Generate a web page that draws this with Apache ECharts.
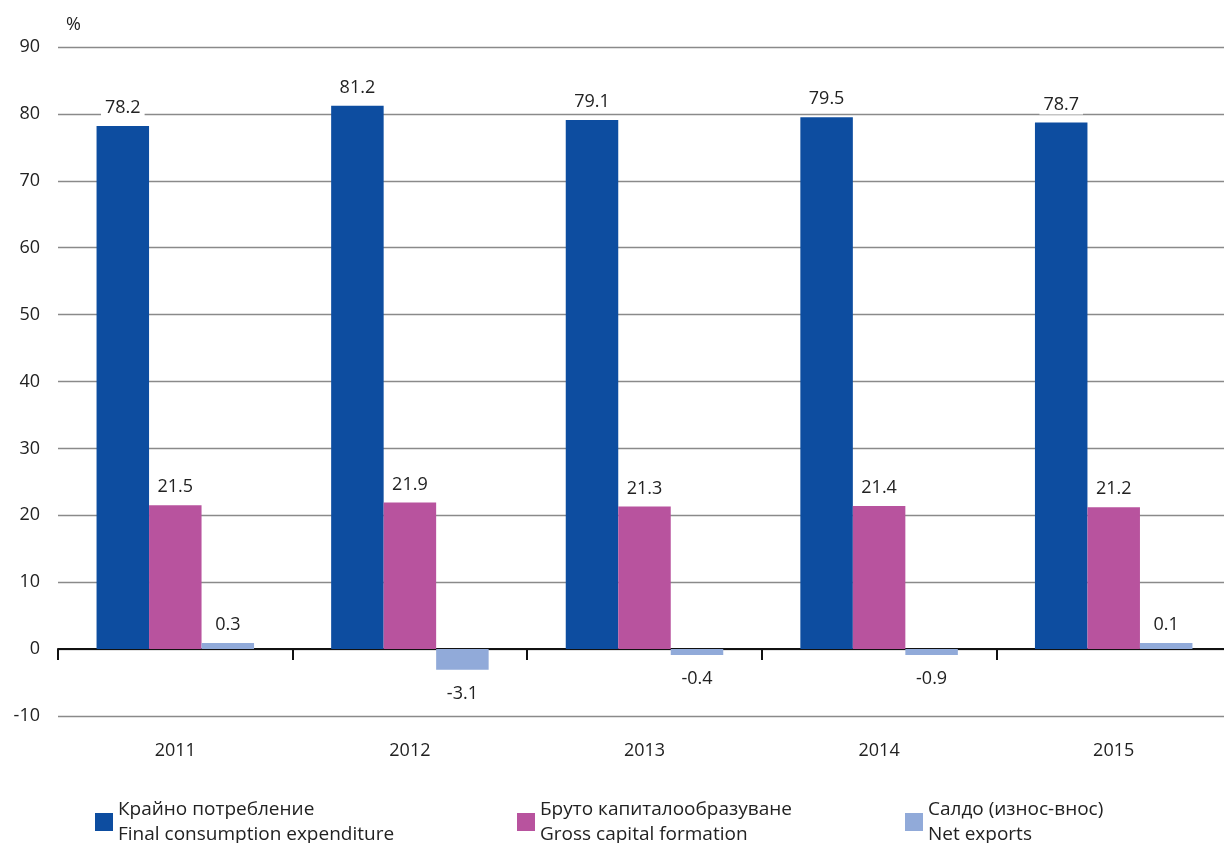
<!DOCTYPE html>
<html><head><meta charset="utf-8">
<script src="https://cdn.jsdelivr.net/npm/echarts@6/dist/echarts.min.js"></script>
<style>html,body{margin:0;padding:0;background:#fff;overflow:hidden}#c{width:1240px;height:843px}</style>
</head><body><div id="c"></div>
<script>
const categories = ['2011','2012','2013','2014','2015'];
const finalConsumption = [78.2, 81.2, 79.1, 79.5, 78.7];
const grossCapital = [21.5, 21.9, 21.3, 21.4, 21.2];
const netExports = [0.3, -3.1, -0.4, -0.9, 0.1];
const seriesNames = [
  'Крайно потребление\nFinal consumption expenditure',
  'Бруто капиталообразуване\nGross capital formation',
  'Салдо (износ-внос)\nNet exports'
];
const colors = ['#0D4DA0', '#B8539E', '#91AAD9'];
const FONT = 'Open Sans';

function mk(vals){
  return vals.map(v => ({value: v, label: {position: v < 0 ? 'bottom' : 'top', distance: v < 0 ? 14 : 8}}));
}
const lbl = {show: true, fontFamily: FONT, fontSize: 18, color: '#222', backgroundColor: '#fff', padding: [1, 4]};
const chart = echarts.init(document.getElementById('c'));
const legendBase = {orient: 'horizontal', top: 792, itemWidth: 18, itemHeight: 18, itemGap: 9,
  textStyle: {fontFamily: FONT, fontSize: 19, color: '#222', lineHeight: 25}, selectedMode: false, icon: 'rect'};
chart.setOption({
  animation: false,
  color: colors,
  grid: {left: 58, right: 9, top: 47, bottom: 127, containLabel: false},
  title: {text: '%', left: 61, top: 11, textStyle: {fontFamily: FONT, fontSize: 18, fontWeight: 'normal', color: '#222'}},
  legend: [
    Object.assign({}, legendBase, {left: 90, data: [seriesNames[0]]}),
    Object.assign({}, legendBase, {left: 512, data: [seriesNames[1]]}),
    Object.assign({}, legendBase, {left: 900, data: [seriesNames[2]]})
  ],
  xAxis: {
    type: 'category', data: categories,
    axisLine: {onZero: true, lineStyle: {color: '#111', width: 2}},
    axisTick: {show: true, length: 11, lineStyle: {color: '#111', width: 2}},
    axisLabel: {margin: 26, fontFamily: FONT, fontSize: 18, color: '#222'}
  },
  yAxis: {
    type: 'value', min: -10, max: 90, interval: 10,
    axisLine: {show: false}, axisTick: {show: false},
    splitLine: {lineStyle: {color: '#8a8a8a', width: 1.3}},
    axisLabel: {margin: 18, fontFamily: FONT, fontSize: 18, color: '#222'}
  },
  series: [
    {name: seriesNames[0], type: 'bar', data: mk(finalConsumption), barWidth: 52.5, barGap: '0%', label: lbl},
    {name: seriesNames[1], type: 'bar', data: mk(grossCapital), barWidth: 52.5, barGap: '0%', label: lbl},
    {name: seriesNames[2], type: 'bar', data: mk(netExports), barWidth: 52.5, barGap: '0%', barMinHeight: 6, label: lbl}
  ]
});
</script></body></html>
